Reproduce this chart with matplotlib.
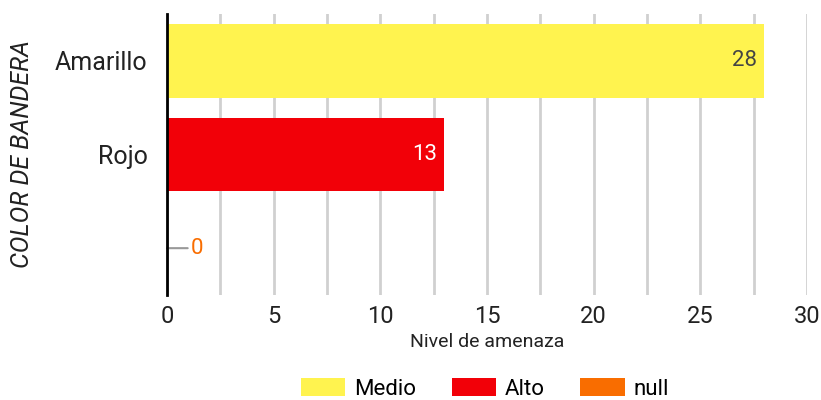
import matplotlib.pyplot as plt
from matplotlib.ticker import MultipleLocator
from matplotlib.patches import Patch

plt.rcParams['font.family'] = ['Roboto', 'DejaVu Sans']

# ── Datos ────────────────────────────────────────────────────────────────────
categorias = ["Amarillo", "Rojo", ""]
valores    = [28, 13, 0]
niveles    = ["Medio", "Alto", "null"]
colores    = ["#FFF34F", "#F20008", "#F96D00"]
col_etiq   = ["#444444", "white", "#F96D00"]
# ─────────────────────────────────────────────────────────────────────────────

fig = plt.figure(figsize=(8.21, 4.0), dpi=100)
ax = fig.add_axes([167 / 821, 1 - 295 / 400, 640 / 821, 281 / 400])

ypos = list(range(len(categorias)))
ax.barh(ypos, valores, height=0.79, color=colores, zorder=3)

for y, v, c in zip(ypos, valores, col_etiq):
    if v > 0:
        ax.text(v - 0.35, y, str(v), ha="right", va="center",
                color=c, fontsize=16, zorder=4)
    else:
        ax.annotate(str(v), xy=(v, y), xytext=(v + 1.1, y),
                    ha="left", va="center", color=c, fontsize=16,
                    arrowprops=dict(arrowstyle="-", color="#999999", lw=1.5,
                                    shrinkA=0, shrinkB=0))

ax.set_xlim(0, 30)
ax.set_ylim(2.5, -0.5)
ax.set_yticks(ypos)
ax.set_yticklabels(categorias, fontsize=18)
ax.xaxis.set_major_locator(MultipleLocator(5))
ax.xaxis.set_minor_locator(MultipleLocator(2.5))
ax.tick_params(axis="x", labelsize=17, length=0, pad=7, colors="#222222")
ax.tick_params(axis="y", length=0, pad=14, colors="#222222")
ax.tick_params(which="minor", length=0)
ax.grid(True, axis="x", which="both", color="#D0D0D0", lw=2, zorder=0)

for s in ["top", "right", "bottom"]:
    ax.spines[s].set_visible(False)
ax.spines["left"].set_color("black")
ax.spines["left"].set_linewidth(2)
ax.spines["left"].set_zorder(5)

ax.set_xlabel("Nivel de amenaza", fontsize=14, labelpad=4, color="#222222")
ax.set_ylabel("COLOR DE BANDERA", fontsize=18, style="italic",
              labelpad=15, color="#222222")

handles = [Patch(facecolor=c, label=n) for c, n in zip(colores, niveles)]
fig.legend(handles=handles, loc="center", bbox_to_anchor=(485 / 821, 1 - 389 / 400),
           ncol=3, frameon=False, fontsize=16, handlelength=2.0,
           handleheight=0.86, columnspacing=1.6, handletextpad=0.4,
           borderpad=0)

fig.savefig("out.png", dpi=100)
